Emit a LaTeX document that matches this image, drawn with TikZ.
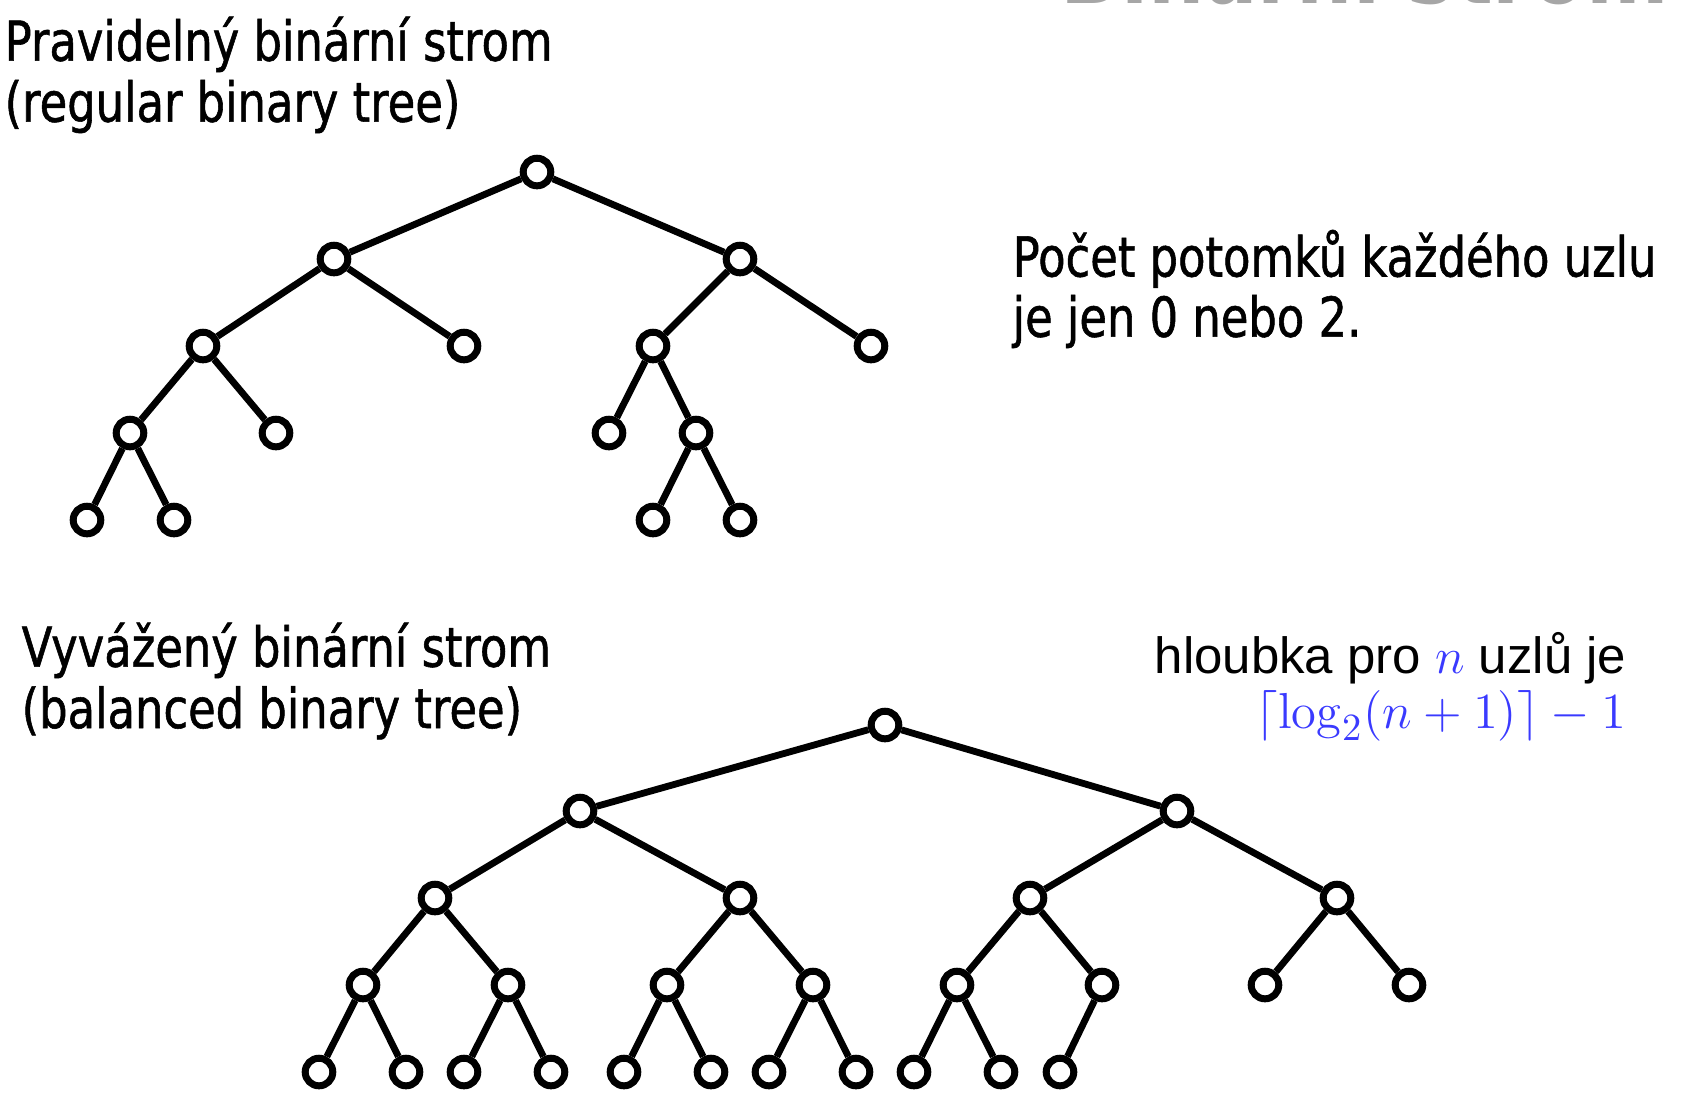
\documentclass[tikz,border=0pt]{standalone}
\usepackage[no-math]{fontspec}
\setmainfont{DejaVu Sans}[FakeStretch=0.815, FakeBold=1]
\newfontfamily\arialfont{Liberation Sans}
\newfontfamily\titlefont{DejaVu Sans}[FakeStretch=0.81]
\usepackage{xcolor}
\usepackage{amsmath}
\usepackage{tikz}
\usetikzlibrary{calc,positioning}

\definecolor{formblue}{RGB}{58,58,255}
\definecolor{titlegray}{RGB}{166,166,166}

\tikzset{
  vtx/.style={circle, draw=black, fill=white, line width=0.7mm, inner sep=0pt, minimum size=2.76mm},
  branch/.style={line width=0.68mm, black},
  txt/.style={inner sep=0pt, font=\fontsize{15.65}{18}\selectfont},
  arialtxt/.style={inner sep=0pt, font=\arialfont\fontsize{14.5}{17}\selectfont}
}

\begin{document}
\begin{tikzpicture}[x=0.1mm, y=-0.1mm]
  \useasboundingbox (0,0) rectangle (1686,1106);

  % cut-off slide title
  \node[inner sep=0pt, anchor=base west, text=titlegray, font=\titlefont\bfseries\fontsize{27.8}{30}\selectfont] (title) at (1060,3) {Binární strom};

  % labels
  \node[txt, anchor=base west] (regA) at (4,60.7) {Pravidelný binární strom};
  \node[txt, anchor=base west] (regB) at (4,121.7) {(regular binary tree)};
  \node[txt, anchor=base west] (cntA) at (1012,276.5) {Počet potomků každého uzlu};
  \node[txt, anchor=base west] (cntB) at (1012,336.7) {je jen 0 nebo 2.};
  \node[txt, anchor=base west] (balA) at (21,666.7) {Vyvážený binární strom};
  \node[txt, anchor=base west] (balB) at (21,728) {(balanced binary tree)};
  \node[arialtxt, anchor=base east] (depA) at (1627,673.3) {hloubka pro {\color{formblue}$n$} uzlů je};
  \node[arialtxt, anchor=base east, text=formblue, font=\fontsize{15.1}{17}\selectfont] (depB) at (1627,728.3) {$\lceil\log_2(n+1)\rceil-1$};

  % regular tree
  \node[vtx] (r0) at (537,172) {};
  \node[vtx] (r1) at (334,259) {};
  \node[vtx] (r2) at (740,259) {};
  \node[vtx] (r3) at (203,346) {};
  \node[vtx] (r4) at (464,346) {};
  \node[vtx] (r5) at (653,346) {};
  \node[vtx] (r6) at (871,346) {};
  \node[vtx] (r7) at (130,433) {};
  \node[vtx] (r8) at (276,433) {};
  \node[vtx] (r9) at (609,433) {};
  \node[vtx] (r10) at (696,433) {};
  \node[vtx] (r11) at (87,520) {};
  \node[vtx] (r12) at (174,520) {};
  \node[vtx] (r13) at (653,520) {};
  \node[vtx] (r14) at (740,520) {};

  \draw[branch] (r1) -- (r0) -- (r2);
  \draw[branch] (r3) -- (r1) -- (r4);
  \draw[branch] (r5) -- (r2) -- (r6);
  \draw[branch] (r7) -- (r3) -- (r8);
  \draw[branch] (r9) -- (r5) -- (r10);
  \draw[branch] (r11) -- (r7) -- (r12);
  \draw[branch] (r13) -- (r10) -- (r14);

  % balanced tree
  \node[vtx] (b0) at (885,725) {};
  \node[vtx] (b1) at (580,811) {};
  \node[vtx] (b2) at (1177,811) {};
  \node[vtx] (b3) at (435,898) {};
  \node[vtx] (b4) at (740,898) {};
  \node[vtx] (b5) at (1030,898) {};
  \node[vtx] (b6) at (1337,898) {};
  \node[vtx] (b7) at (363,985) {};
  \node[vtx] (b8) at (508,985) {};
  \node[vtx] (b9) at (667,985) {};
  \node[vtx] (b10) at (813,985) {};
  \node[vtx] (b11) at (957,985) {};
  \node[vtx] (b12) at (1102,985) {};
  \node[vtx] (b13) at (1265,985) {};
  \node[vtx] (b14) at (1409,985) {};
  \node[vtx] (b15) at (319,1072) {};
  \node[vtx] (b16) at (406,1072) {};
  \node[vtx] (b17) at (464,1072) {};
  \node[vtx] (b18) at (551,1072) {};
  \node[vtx] (b19) at (624,1072) {};
  \node[vtx] (b20) at (711,1072) {};
  \node[vtx] (b21) at (769,1072) {};
  \node[vtx] (b22) at (856,1072) {};
  \node[vtx] (b23) at (914,1072) {};
  \node[vtx] (b24) at (1001,1072) {};
  \node[vtx] (b25) at (1060,1072) {};

  \draw[branch] (b1) -- (b0) -- (b2);
  \draw[branch] (b3) -- (b1) -- (b4);
  \draw[branch] (b5) -- (b2) -- (b6);
  \draw[branch] (b7) -- (b3) -- (b8);
  \draw[branch] (b9) -- (b4) -- (b10);
  \draw[branch] (b11) -- (b5) -- (b12);
  \draw[branch] (b13) -- (b6) -- (b14);
  \draw[branch] (b15) -- (b7) -- (b16);
  \draw[branch] (b17) -- (b8) -- (b18);
  \draw[branch] (b19) -- (b9) -- (b20);
  \draw[branch] (b21) -- (b10) -- (b22);
  \draw[branch] (b23) -- (b11) -- (b24);
  \draw[branch] (b25) -- (b12);

\end{tikzpicture}
\end{document}
